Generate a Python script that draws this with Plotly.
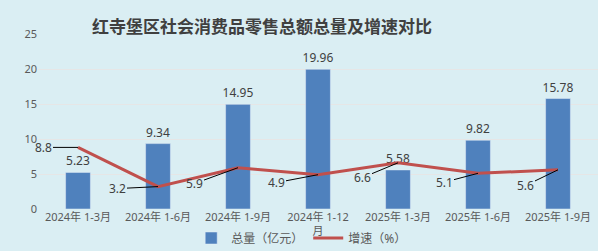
import plotly.graph_objects as go

categories = ["2024年 1-3月", "2024年 1-6月", "2024年 1-9月", "2024年 1-12<br>月",
              "2025年 1-3月", "2025年 1-6月", "2025年 1-9月"]
total = [5.23, 9.34, 14.95, 19.96, 5.58, 9.82, 15.78]
growth = [8.8, 3.2, 5.9, 4.9, 6.6, 5.1, 5.6]
growth_labels = ["8.8", "3.2", "5.9", "4.9", "6.6", "5.1", "5.6"]
label_offsets = [(-35, 0), (-41, 2), (-44, 16), (-42, 8), (-36, 15), (-34, 9), (-33, 16)]
yticks = [0, 5, 10, 15, 20, 25]

FONT = "Noto Sans, Noto Sans CJK SC"
fig = go.Figure()
fig.add_trace(go.Bar(
    x=categories, y=total, name="总量（亿元）",
    marker=dict(color="#4f81bd"),
    text=[f"{v:.2f}" for v in total], textposition="outside",
    textfont=dict(size=12, color="#404040", family=FONT),
    cliponaxis=False, constraintext="none",
))
fig.add_trace(go.Scatter(
    x=categories, y=growth, name="增速（%）", mode="lines",
    line=dict(color="#c0504d", width=3),
))
for c, g, t, (ax, ay) in zip(categories, growth, growth_labels, label_offsets):
    fig.add_annotation(x=c, y=g, text=t, showarrow=True, arrowhead=0,
                       arrowwidth=1, arrowcolor="#000000", ax=ax, ay=ay,
                       standoff=0, font=dict(size=12, color="#404040", family=FONT))

fig.add_annotation(text="<b>红寺堡区社会消费品零售总额总量及增速对比</b>",
                   xref="paper", yref="paper", x=(262 - 38) / 560, y=1 + 8 / 175,
                   xanchor="center", yanchor="middle", showarrow=False,
                   font=dict(size=17, color="#404040", family="Noto Sans CJK SC"))

fig.update_layout(
    width=598, height=251,
    margin=dict(l=38, r=0, t=34, b=42, autoexpand=False),
    paper_bgcolor="#daeef3", plot_bgcolor="#daeef3",
    font=dict(family=FONT, size=11, color="#595959"),
    bargap=0.69,
    showlegend=True,
    legend=dict(orientation="h", x=0.47, xanchor="center", yref="container",
                y=13 / 251, yanchor="middle",
                font=dict(size=12, color="#595959"), bgcolor="rgba(0,0,0,0)",
                itemwidth=30),
    xaxis=dict(showgrid=False, showline=False, ticks="", tickfont=dict(size=11),
               tickangle=0, automargin=False, range=[-0.5, 6.5], autorange=False),
    yaxis=dict(range=[0, 25], tickvals=yticks, showgrid=True, gridcolor="#e6e6e6",
               gridwidth=1, zeroline=False, ticks="", tickfont=dict(size=11),
               automargin=False),
)
fig.write_html("out.html")
